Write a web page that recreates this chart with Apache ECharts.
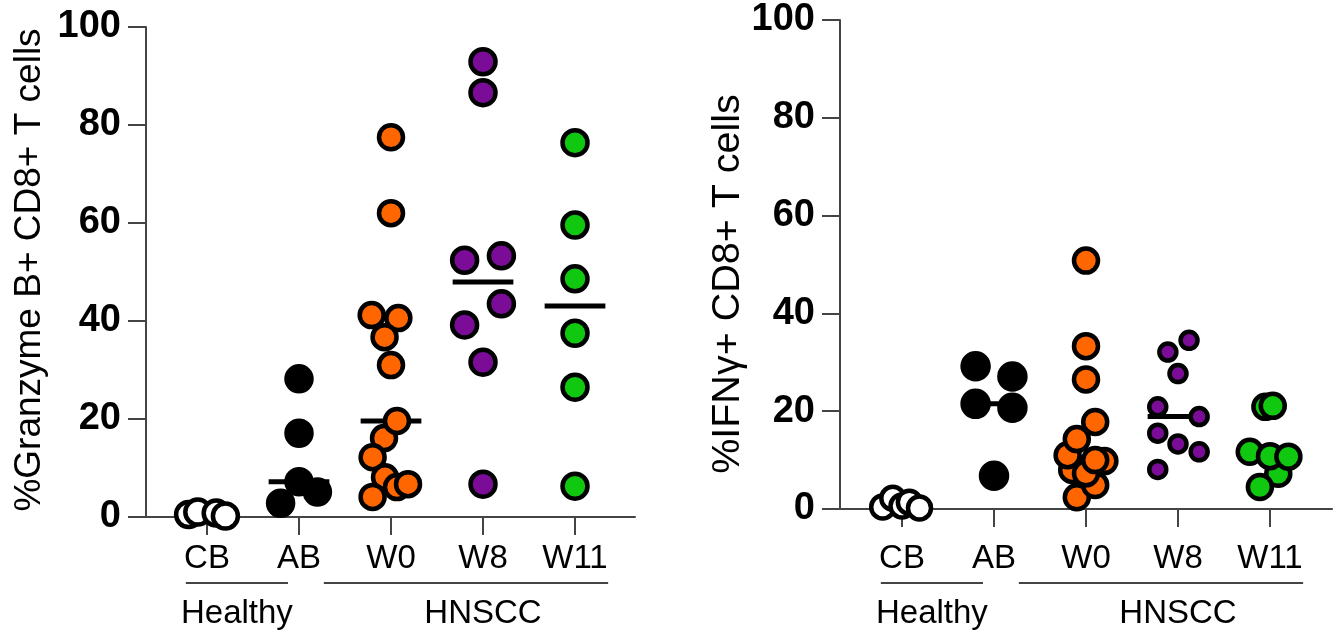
<!DOCTYPE html>
<html><head><meta charset="utf-8">
<script src="https://cdn.jsdelivr.net/npm/echarts@6/dist/echarts.min.js"></script>
<style>html,body{margin:0;padding:0;background:#fff}#c{width:1339px;height:635px}</style>
</head><body><div id="c"></div>
<script>
// ---------- data ----------
const categories = ['CB', 'AB', 'W0', 'W8', 'W11'];
const groupNames = ['Healthy', 'HNSCC'];
const yTicks = [0, 20, 40, 60, 80, 100];
const titleLeft = '%Granzyme B+ CD8+ T cells';
const titleRight = '%IFNγ+ CD8+ T cells';

// %Granzyme B+ CD8+ T cells
const gzbCB  = [0.5, 1.0, 0.8, 0.2];
const gzbAB  = [28.2, 17.1, 7.2, 5.1, 2.8];
const gzbW0  = [77.5, 62.0, 41.2, 40.6, 36.7, 31.0, 16.1, 12.2, 8.1, 6.1, 6.7, 4.1, 19.6];
const gzbW8  = [92.9, 86.6, 53.3, 52.4, 43.5, 39.2, 31.6, 6.7];
const gzbW11 = [76.4, 59.6, 48.6, 37.5, 26.5, 6.3];
// beeswarm spread (category units)
const gzbCBJit  = [-0.2, -0.1, 0.1, 0.2];
const gzbABJit  = [0, 0, 0, 0.2, -0.2];
const gzbW0Jit  = [0, 0, -0.21, 0.08, -0.07, 0, -0.076, -0.2, -0.065, 0.065, 0.185, -0.2, 0.065];
const gzbW8Jit  = [0, 0, 0.2, -0.2, 0.2, -0.2, 0, 0];
const gzbW11Jit = [0, 0, 0, 0, 0, 0];

// %IFNγ+ CD8+ T cells
const ifnCB  = [0.4, 2.2, 0.6, 1.4, 0.2];
const ifnAB  = [29.2, 27.1, 21.5, 20.7, 6.8];
const ifnW0  = [50.8, 33.3, 26.5, 8.0, 2.4, 4.9, 7.3, 9.8, 11.0, 14.3, 10.0, 17.8];
const ifnW8  = [34.5, 32.1, 27.7, 20.9, 18.9, 15.5, 13.3, 11.7, 8.1];
const ifnW11 = [7.2, 4.5, 11.7, 10.8, 10.7, 20.9, 21.1];
const ifnCBJit  = [-0.21, -0.1, 0, 0.08, 0.19];
const ifnABJit  = [-0.2, 0.2, -0.2, 0.2, 0];
const ifnW0Jit  = [0, 0, 0, -0.15, -0.1, 0.1, 0, 0.2, -0.2, -0.1, 0.1, 0.1];
const ifnW8Jit  = [0.12, -0.11, 0, -0.22, 0.23, -0.22, 0, 0.23, -0.22];
const ifnW11Jit = [0.09, -0.11, -0.22, 0, 0.2, -0.05, 0.03];

// ---------- styles ----------
const fills = ['#ffffff', '#000000', '#ff6600', '#7a0c98', '#0fc80f'];
const axisColor = '#444';
const FONT = 'Liberation Sans, Arial, sans-serif';

const panels = [
  { groups: [gzbCB, gzbAB, gzbW0, gzbW8, gzbW11], jits: [gzbCBJit, gzbABJit, gzbW0Jit, gzbW8Jit, gzbW11Jit],
    sizes: [25, 25, 24, 25, 25], labelMargin: 25, xmin: -0.663, xmax: 4.652 },
  { groups: [ifnCB, ifnAB, ifnW0, ifnW8, ifnW11], jits: [ifnCBJit, ifnABJit, ifnW0Jit, ifnW8Jit, ifnW11Jit],
    sizes: [23, 26, 24, 17, 24], labelMargin: 33, xmin: -0.674, xmax: 4.674 }
];

function median(a) {
  const s = a.slice().sort((x, y) => x - y);
  const n = s.length;
  return n % 2 ? s[(n - 1) / 2] : (s[n / 2 - 1] + s[n / 2]) / 2;
}

const grids = [
  { left: 146, top: 27, width: 489, height: 490, containLabel: false, outerBoundsMode: 'none' },
  { left: 840, top: 20, width: 492, height: 489, containLabel: false, outerBoundsMode: 'none' }
];

const xAxes = panels.map((p, k) => ({
  type: 'value', gridIndex: k, min: p.xmin, max: p.xmax,
  splitLine: { show: false },
  axisLine: { show: true, onZero: false, lineStyle: { color: axisColor, width: 2 } },
  axisTick: { show: true, length: 18, customValues: categories.map((c, i) => i), lineStyle: { color: axisColor, width: 2 } },
  axisLabel: { show: true, customValues: categories.map((c, i) => i), formatter: v => categories[Math.round(v)],
    fontSize: 33, color: '#000', fontFamily: FONT, margin: p.labelMargin }
}));

const yAxes = panels.map((p, k) => ({
  type: 'value', gridIndex: k, min: yTicks[0], max: yTicks[yTicks.length - 1], interval: yTicks[1] - yTicks[0],
  splitLine: { show: false },
  axisLine: { show: true, onZero: false, lineStyle: { color: axisColor, width: 2 } },
  axisTick: { show: true, length: 18, lineStyle: { color: axisColor, width: 2 } },
  axisLabel: { fontSize: 38, fontWeight: 'bold', color: '#000', fontFamily: FONT, margin: 25 }
}));

const series = [];
panels.forEach((p, k) => {
  p.groups.forEach((vals, gi) => {
    series.push({
      type: 'line', xAxisIndex: k, yAxisIndex: k, z: 1, silent: true, clip: false,
      symbol: 'none', lineStyle: { color: '#000', width: 5 },
      data: [[gi - 0.33, median(vals)], [gi + 0.33, median(vals)]]
    });
  });
  p.groups.forEach((vals, gi) => {
    series.push({
      type: 'scatter', xAxisIndex: k, yAxisIndex: k, z: 3, clip: false,
      symbol: 'circle', symbolSize: p.sizes[gi],
      itemStyle: { color: fills[gi], borderColor: '#000', borderWidth: 4.5, opacity: 1 },
      data: vals.map((v, i) => [gi + p.jits[gi][i], v])
    });
  });
});

const chart = echarts.init(document.getElementById('c'), null, { renderer: 'canvas' });
chart.setOption({
  animation: false, backgroundColor: '#fff',
  grid: grids, xAxis: xAxes, yAxis: yAxes, series: series
});

// group brackets, labels and axis titles placed through the axes' own scales
const groupSpans = [[-0.23, 0.88], [1.27, 4.36]];
const groupLabelAt = [null, 3];
const graphics = [];
panels.forEach((p, k) => {
  groupSpans.forEach((sp, g) => {
    const x1 = chart.convertToPixel({ xAxisIndex: k }, sp[0]);
    const x2 = chart.convertToPixel({ xAxisIndex: k }, sp[1]);
    graphics.push({ type: 'line', shape: { x1: x1, y1: 583, x2: x2, y2: 583 },
      style: { stroke: axisColor, lineWidth: 2 } });
    const cx = groupLabelAt[g] === null ? (x1 + x2) / 2 : chart.convertToPixel({ xAxisIndex: k }, groupLabelAt[g]);
    graphics.push({ type: 'text', x: cx, y: 614,
      style: { text: groupNames[g], fontSize: 33, fontFamily: FONT, fill: '#000', align: 'center', verticalAlign: 'middle' } });
  });
});
graphics.push({ type: 'text', x: 30, y: 270, rotation: Math.PI / 2,
  style: { text: titleLeft, fontSize: 37, fontFamily: FONT, fill: '#000', align: 'center', verticalAlign: 'middle' } });
graphics.push({ type: 'text', x: 728, y: 284, rotation: Math.PI / 2,
  style: { text: titleRight, fontSize: 39.5, fontFamily: FONT, fill: '#000', align: 'center', verticalAlign: 'middle' } });
chart.setOption({ graphic: graphics });
</script>
</body></html>
